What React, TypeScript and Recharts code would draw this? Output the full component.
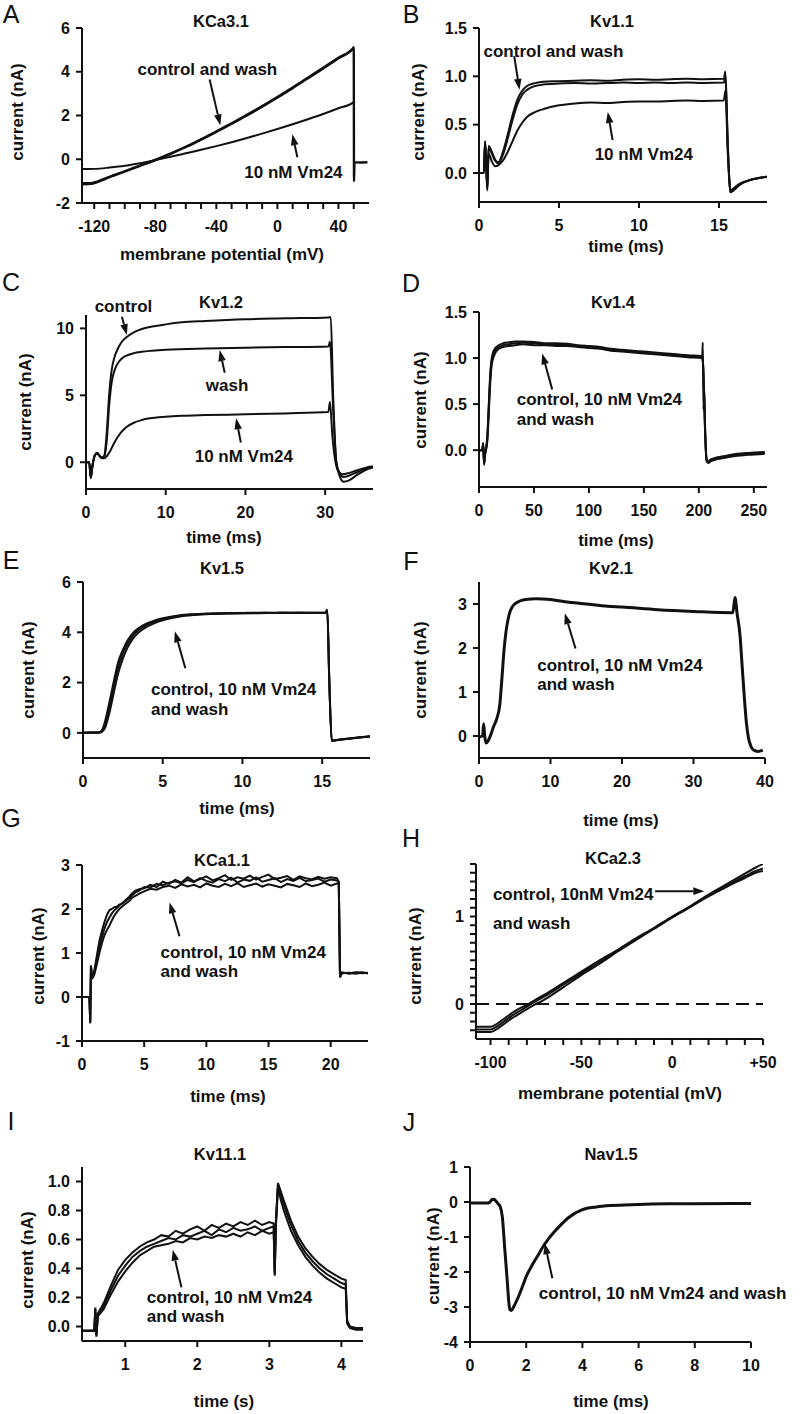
import React from "react";
import { LineChart, Line, XAxis, YAxis, ReferenceLine, ReferenceDot } from "recharts";

type Pt = [number, number];

// ---------- traces: [x, y] ----------
// A  KCa3.1  (mV, nA)
const KCA31_CONTROL: Pt[] = [[-128,-1.14],[-122,-1.12],[-118,-1.04],[-110,-0.82],[-100,-0.56],[-90,-0.3],[-80,-0.04],[-70,0.25],[-60,0.56],[-50,0.9],[-40,1.25],[-30,1.62],[-20,2.0],[-10,2.4],[0,2.82],[10,3.25],[20,3.7],[30,4.15],[40,4.62],[49.8,5.1],[50,5.12],[50.2,-1.0],[50.5,-0.14],[54,-0.15],[59,-0.14]];
const KCA31_WASH: Pt[] = [[-128,-1.1],[-122,-1.09],[-118,-1.02],[-110,-0.8],[-100,-0.55],[-90,-0.29],[-80,-0.03],[-70,0.26],[-60,0.57],[-50,0.91],[-40,1.27],[-30,1.64],[-20,2.03],[-10,2.43],[0,2.85],[10,3.28],[20,3.73],[30,4.18],[40,4.64],[49.8,5.08],[50,5.1]];
const KCA31_VM24: Pt[] = [[-128,-0.45],[-120,-0.44],[-110,-0.38],[-100,-0.3],[-90,-0.18],[-80,-0.04],[-70,0.11],[-60,0.27],[-50,0.43],[-40,0.6],[-30,0.78],[-20,0.97],[-10,1.17],[0,1.38],[10,1.6],[20,1.83],[30,2.07],[40,2.33],[49.8,2.6],[50,2.62]];

// B  Kv1.1  (ms, nA)
const KV11_CONTROL: Pt[] = [[0,0],[0.3,0],[0.38,0.33],[0.45,0.1],[0.52,-0.18],[0.6,0.28],[0.8,0.22],[1.0,0.14],[1.2,0.11],[1.5,0.22],[1.8,0.4],[2.1,0.6],[2.4,0.76],[2.7,0.85],[3.0,0.9],[3.5,0.93],[4,0.945],[5,0.95],[6,0.955],[7,0.96],[8,0.955],[9,0.965],[10,0.97],[11,0.965],[12,0.97],[13,0.975],[14,0.97],[15.3,0.975],[15.4,1.05],[15.55,0.3],[15.72,-0.2],[15.9,-0.18],[16.3,-0.12],[17,-0.07],[18,-0.04]];
const KV11_WASH: Pt[] = [[0,0],[0.3,0],[0.38,0.32],[0.45,0.1],[0.52,-0.17],[0.6,0.26],[0.8,0.2],[1.0,0.13],[1.2,0.1],[1.5,0.19],[1.8,0.36],[2.1,0.55],[2.4,0.71],[2.7,0.81],[3.0,0.86],[3.5,0.9],[4,0.915],[5,0.925],[6,0.93],[7,0.925],[8,0.93],[9,0.935],[10,0.93],[11,0.935],[12,0.93],[13,0.935],[14,0.93],[15.3,0.935],[15.4,1.0],[15.55,0.28],[15.72,-0.2],[15.9,-0.18],[16.3,-0.12],[17,-0.07],[18,-0.04]];
const KV11_VM24: Pt[] = [[0,0],[0.3,0],[0.38,0.3],[0.45,0.08],[0.52,-0.15],[0.6,0.2],[0.8,0.12],[1.0,0.07],[1.2,0.08],[1.5,0.13],[1.8,0.22],[2.1,0.33],[2.4,0.44],[2.7,0.52],[3.0,0.58],[3.5,0.63],[4,0.66],[5,0.7],[6,0.72],[7,0.73],[8,0.725],[9,0.735],[10,0.74],[11,0.74],[12,0.745],[13,0.75],[14,0.745],[15.3,0.75],[15.4,0.85],[15.55,0.2],[15.72,-0.18],[15.9,-0.16],[16.3,-0.11],[17,-0.07],[18,-0.04]];

// C  Kv1.2
const KV12_CONTROL: Pt[] = [[0,0],[0.4,0],[0.6,-1.2],[0.8,-0.3],[1.1,0.5],[1.4,0.7],[1.7,0.5],[2.0,0.35],[2.3,0.5],[2.6,2.2],[2.9,5.0],[3.2,6.8],[3.6,7.9],[4.0,8.5],[4.5,9.0],[5,9.3],[6,9.7],[7,9.95],[8,10.1],[10,10.3],[12,10.45],[15,10.55],[20,10.68],[25,10.75],[30.4,10.82],[30.7,10.85],[31.0,5],[31.4,0],[31.8,-1.0],[32.3,-1.45],[33,-1.35],[34,-0.95],[35,-0.6],[36,-0.4]];
const KV12_WASH: Pt[] = [[0,0],[0.4,0],[0.6,-1.15],[0.8,-0.3],[1.1,0.5],[1.4,0.68],[1.7,0.48],[2.0,0.33],[2.3,0.45],[2.6,1.6],[2.9,4.2],[3.2,5.9],[3.6,6.9],[4.0,7.4],[4.5,7.75],[5,7.95],[6,8.15],[7,8.25],[8,8.32],[10,8.4],[15,8.5],[20,8.56],[25,8.6],[30.4,8.65],[30.6,9.0],[31.0,4],[31.4,0],[31.8,-0.8],[32.3,-1.1],[33,-1.0],[34,-0.75],[35,-0.5],[36,-0.35]];
const KV12_VM24: Pt[] = [[0,0],[0.4,0],[0.6,-1.1],[0.8,-0.3],[1.1,0.5],[1.4,0.65],[1.7,0.45],[2.0,0.3],[2.3,0.3],[2.6,0.45],[3.0,0.8],[3.5,1.4],[4,1.9],[4.5,2.3],[5,2.6],[6,2.95],[7,3.15],[8,3.28],[10,3.4],[12,3.47],[15,3.52],[20,3.58],[25,3.65],[30.4,3.75],[30.6,4.5],[30.9,2],[31.3,0],[31.7,-0.7],[32.2,-0.9],[33,-0.8],[34,-0.6],[35,-0.42],[36,-0.3]];

// D  Kv1.4
const KV14_A: Pt[] = [[0,0],[3,0],[3.8,0.08],[4.6,-0.16],[5.5,-0.05],[6.5,0.02],[7.5,0.12],[8.5,0.35],[9.5,0.62],[10.5,0.84],[11.5,0.96],[13,1.04],[15,1.09],[18,1.12],[22,1.14],[27,1.15],[33,1.16],[40,1.165],[50,1.16],[60,1.15],[70,1.15],[80,1.14],[90,1.13],[100,1.12],[110,1.11],[120,1.09],[130,1.08],[140,1.07],[150,1.06],[160,1.05],[170,1.04],[180,1.03],[190,1.02],[203,1.01],[203.6,1.17],[204.2,0.44],[204.8,0.7],[205.8,0.2],[207,-0.1],[208.5,-0.13],[211,-0.11],[216,-0.09],[225,-0.07],[235,-0.05],[245,-0.04],[260,-0.03]];
const KV14_B: Pt[] = [[0,0],[3,0],[3.8,0.06],[4.6,-0.14],[5.5,-0.05],[6.5,0.01],[7.5,0.09],[8.5,0.3],[9.5,0.56],[10.5,0.78],[11.5,0.92],[13,1.0],[15,1.06],[18,1.1],[22,1.12],[27,1.13],[33,1.14],[40,1.15],[50,1.14],[60,1.14],[70,1.13],[80,1.13],[90,1.12],[100,1.11],[110,1.1],[120,1.08],[130,1.07],[140,1.06],[150,1.05],[160,1.04],[170,1.03],[180,1.02],[190,1.01],[203,1.0],[204,0.9],[205.8,0.15],[207,-0.12],[208.5,-0.14],[211,-0.12],[216,-0.1],[225,-0.08],[235,-0.06],[245,-0.05],[260,-0.04]];
const KV14_C: Pt[] = [[0,0],[3,0],[3.8,0.07],[4.6,-0.15],[5.5,-0.04],[6.5,0.03],[7.5,0.14],[8.5,0.38],[9.5,0.66],[10.5,0.88],[11.5,0.99],[13,1.07],[15,1.11],[18,1.14],[22,1.16],[27,1.17],[33,1.18],[40,1.18],[50,1.175],[60,1.16],[70,1.16],[80,1.155],[90,1.14],[100,1.13],[110,1.12],[120,1.1],[130,1.09],[140,1.08],[150,1.07],[160,1.06],[170,1.05],[180,1.04],[190,1.03],[203,1.02],[204,0.9],[205.8,0.18],[207,-0.09],[208.5,-0.12],[211,-0.1],[216,-0.08],[225,-0.06],[235,-0.04],[245,-0.03],[260,-0.02]];

// E  Kv1.5
const KV15_A: Pt[] = [[0,0],[0.5,0.01],[1.0,0.02],[1.2,0.12],[1.4,0.5],[1.6,1.05],[1.8,1.65],[2.0,2.25],[2.2,2.8],[2.5,3.3],[2.8,3.68],[3.1,3.95],[3.5,4.17],[4,4.35],[4.5,4.47],[5,4.56],[5.5,4.62],[6,4.67],[7,4.72],[8,4.75],[9,4.76],[10,4.77],[11,4.78],[12,4.77],[13,4.78],[14,4.78],[15.2,4.78],[15.32,4.9],[15.45,2.0],[15.6,-0.32],[15.8,-0.3],[16.5,-0.24],[17.2,-0.19],[18,-0.14]];
const KV15_B: Pt[] = [[0,0],[0.5,0.01],[1.0,0.01],[1.2,0.08],[1.4,0.35],[1.6,0.85],[1.8,1.45],[2.0,2.05],[2.2,2.6],[2.5,3.15],[2.8,3.55],[3.1,3.85],[3.5,4.1],[4,4.3],[4.5,4.43],[5,4.53],[5.5,4.6],[6,4.65],[7,4.71],[8,4.74],[9,4.76],[10,4.76],[11,4.77],[12,4.78],[13,4.77],[14,4.78],[15.2,4.77],[15.32,4.88],[15.45,2.0],[15.6,-0.3],[15.8,-0.29],[16.5,-0.23],[17.2,-0.18],[18,-0.13]];
const KV15_C: Pt[] = [[0,0],[0.5,0.0],[1.0,0.0],[1.2,0.05],[1.4,0.22],[1.6,0.65],[1.8,1.2],[2.0,1.8],[2.2,2.35],[2.5,2.95],[2.8,3.4],[3.1,3.72],[3.5,4.0],[4,4.22],[4.5,4.37],[5,4.48],[5.5,4.56],[6,4.62],[7,4.69],[8,4.73],[9,4.75],[10,4.76],[11,4.76],[12,4.77],[13,4.78],[14,4.77],[15.2,4.78],[15.32,4.86],[15.45,2.0],[15.6,-0.31],[15.8,-0.3],[16.5,-0.24],[17.2,-0.19],[18,-0.14]];

// F  Kv2.1
const KV21_ALL: Pt[] = [[0,-0.02],[0.5,0],[0.65,0.28],[0.8,0.0],[1.0,-0.16],[1.3,-0.1],[1.7,0.05],[2.0,0.2],[2.5,0.4],[2.9,0.7],[3.2,1.3],[3.5,1.95],[3.8,2.4],[4.2,2.75],[4.7,2.95],[5.5,3.05],[6.5,3.1],[8,3.12],[10,3.1],[12,3.05],[15,3.0],[18,2.95],[20,2.93],[25,2.87],[30,2.83],[35.5,2.8],[35.8,3.15],[36.1,2.78],[36.5,2.3],[36.8,1.6],[37.1,0.9],[37.4,0.3],[37.7,-0.05],[38.0,-0.22],[38.4,-0.32],[39,-0.35],[39.7,-0.32]];

// G  KCa1.1
const KCA11_A: Pt[] = [[0,0],[0.6,0],[0.66,-0.58],[0.72,0.72],[0.8,0.45],[0.9,0.5],[1.0,0.62],[1.2,0.95],[1.4,1.28],[1.6,1.5],[1.8,1.7],[2.0,1.86],[2.2,1.97],[2.4,2.0],[2.6,2.04],[2.8,2.05],[3.0,2.1],[3.2,2.12],[3.5,2.2],[3.8,2.28],[4.0,2.35],[4.3,2.42],[4.6,2.45],[5,2.47],[5.5,2.55],[6,2.5],[6.5,2.62],[7,2.57],[7.5,2.66],[8,2.6],[8.5,2.72],[9,2.63],[9.5,2.68],[10,2.74],[10.5,2.65],[11,2.7],[11.5,2.77],[12,2.66],[12.5,2.72],[13,2.69],[13.5,2.76],[14,2.67],[14.5,2.73],[15,2.78],[15.5,2.68],[16,2.71],[16.5,2.75],[17,2.66],[17.5,2.74],[18,2.7],[18.5,2.67],[19,2.73],[19.5,2.69],[20,2.72],[20.5,2.7],[20.65,2.62],[20.75,0.45],[20.9,0.55],[21.5,0.54],[22,0.56],[22.5,0.54],[23,0.55]];
const KCA11_B: Pt[] = [[0,0],[0.6,0],[0.66,-0.6],[0.72,0.7],[0.8,0.42],[0.9,0.45],[1.0,0.52],[1.2,0.75],[1.4,1.0],[1.6,1.22],[1.8,1.4],[2.0,1.52],[2.2,1.62],[2.4,1.74],[2.6,1.85],[2.8,1.93],[3.0,2.0],[3.2,2.05],[3.5,2.12],[3.8,2.18],[4.0,2.25],[4.3,2.3],[4.6,2.35],[5,2.4],[5.5,2.46],[6,2.44],[6.5,2.5],[7,2.53],[7.5,2.48],[8,2.56],[8.5,2.51],[9,2.55],[9.5,2.49],[10,2.58],[10.5,2.53],[11,2.5],[11.5,2.57],[12,2.52],[12.5,2.59],[13,2.5],[13.5,2.54],[14,2.58],[14.5,2.51],[15,2.56],[15.5,2.53],[16,2.49],[16.5,2.57],[17,2.54],[17.5,2.5],[18,2.58],[18.5,2.52],[19,2.55],[19.5,2.6],[20,2.53],[20.5,2.58],[20.65,2.58],[20.75,0.45],[20.9,0.54],[21.5,0.55],[22,0.53],[22.5,0.55],[23,0.54]];
const KCA11_C: Pt[] = [[0,0],[0.6,0],[0.66,-0.55],[0.72,0.68],[0.8,0.44],[0.9,0.48],[1.0,0.57],[1.2,0.85],[1.4,1.12],[1.6,1.35],[1.8,1.55],[2.0,1.7],[2.2,1.8],[2.4,1.9],[2.6,1.97],[2.8,2.02],[3.0,2.08],[3.2,2.12],[3.5,2.18],[3.8,2.25],[4.0,2.3],[4.3,2.38],[4.6,2.42],[5,2.5],[5.5,2.49],[6,2.57],[6.5,2.54],[7,2.6],[7.5,2.63],[8,2.58],[8.5,2.66],[9,2.61],[9.5,2.7],[10,2.64],[10.5,2.6],[11,2.68],[11.5,2.63],[12,2.71],[12.5,2.6],[13,2.67],[13.5,2.64],[14,2.72],[14.5,2.62],[15,2.66],[15.5,2.7],[16,2.61],[16.5,2.68],[17,2.64],[17.5,2.71],[18,2.63],[18.5,2.66],[19,2.69],[19.5,2.62],[20,2.67],[20.5,2.65],[20.65,2.6],[20.75,0.47],[20.9,0.56],[21.5,0.53],[22,0.55],[22.5,0.56],[23,0.54]];

// H  KCa2.3  (mV, nA)
const KCA23_A: Pt[] = [[-108,-0.26],[-100,-0.26],[-96,-0.22],[-92,-0.16],[-88,-0.1],[-84,-0.05],[-80,-0.01],[-76,0.04],[-70,0.11],[-60,0.24],[-50,0.37],[-40,0.5],[-30,0.62],[-20,0.75],[-10,0.87],[0,1.0],[10,1.12],[20,1.25],[30,1.37],[40,1.49],[46,1.56],[50,1.6]];
const KCA23_B: Pt[] = [[-108,-0.32],[-100,-0.32],[-96,-0.28],[-92,-0.22],[-88,-0.16],[-84,-0.11],[-80,-0.06],[-76,-0.01],[-72,0.03],[-60,0.19],[-50,0.33],[-40,0.46],[-30,0.6],[-20,0.73],[-10,0.86],[0,0.99],[10,1.11],[20,1.23],[30,1.34],[40,1.44],[46,1.5],[50,1.52]];
const KCA23_C: Pt[] = [[-108,-0.29],[-100,-0.29],[-96,-0.25],[-92,-0.19],[-88,-0.13],[-84,-0.08],[-80,-0.03],[-76,0.02],[-70,0.09],[-60,0.22],[-50,0.35],[-40,0.48],[-30,0.61],[-20,0.74],[-10,0.86],[0,0.99],[10,1.11],[20,1.24],[30,1.35],[40,1.46],[46,1.52],[50,1.55]];

// I  Kv11.1  (s, nA)
const KV111_A: Pt[] = [[0.4,-0.03],[0.57,-0.03],[0.585,0.13],[0.6,-0.07],[0.62,0.09],[0.7,0.16],[0.8,0.28],[0.9,0.39],[1.0,0.46],[1.1,0.51],[1.2,0.55],[1.3,0.58],[1.4,0.6],[1.5,0.63],[1.6,0.62],[1.7,0.66],[1.8,0.64],[1.9,0.67],[2.0,0.69],[2.1,0.66],[2.2,0.7],[2.3,0.68],[2.4,0.71],[2.5,0.69],[2.6,0.72],[2.7,0.7],[2.8,0.73],[2.9,0.7],[3.0,0.72],[3.06,0.71],[3.075,0.35],[3.09,0.72],[3.12,0.99],[3.16,0.93],[3.2,0.87],[3.3,0.73],[3.4,0.62],[3.5,0.54],[3.6,0.48],[3.7,0.43],[3.8,0.39],[3.9,0.36],[4.0,0.33],[4.06,0.32],[4.08,0.04],[4.12,0.0],[4.2,-0.01],[4.3,-0.01]];
const KV111_B: Pt[] = [[0.4,-0.03],[0.57,-0.03],[0.585,0.12],[0.6,-0.06],[0.62,0.08],[0.7,0.14],[0.8,0.25],[0.9,0.35],[1.0,0.42],[1.1,0.48],[1.2,0.52],[1.3,0.55],[1.4,0.57],[1.5,0.59],[1.6,0.61],[1.7,0.6],[1.8,0.63],[1.9,0.62],[2.0,0.64],[2.1,0.66],[2.2,0.63],[2.3,0.67],[2.4,0.65],[2.5,0.68],[2.6,0.66],[2.7,0.67],[2.8,0.69],[2.9,0.66],[3.0,0.68],[3.06,0.69],[3.075,0.36],[3.09,0.7],[3.12,0.98],[3.16,0.9],[3.2,0.84],[3.3,0.7],[3.4,0.59],[3.5,0.51],[3.6,0.45],[3.7,0.4],[3.8,0.36],[3.9,0.33],[4.0,0.3],[4.06,0.29],[4.08,0.03],[4.12,-0.01],[4.2,-0.02],[4.3,-0.02]];
const KV111_C: Pt[] = [[0.4,-0.03],[0.57,-0.03],[0.585,0.1],[0.6,-0.06],[0.62,0.07],[0.7,0.12],[0.8,0.22],[0.9,0.31],[1.0,0.38],[1.1,0.44],[1.2,0.49],[1.3,0.52],[1.4,0.55],[1.5,0.56],[1.6,0.57],[1.7,0.59],[1.8,0.58],[1.9,0.61],[2.0,0.6],[2.1,0.62],[2.2,0.61],[2.3,0.63],[2.4,0.62],[2.5,0.64],[2.6,0.62],[2.7,0.65],[2.8,0.63],[2.9,0.66],[3.0,0.64],[3.06,0.65],[3.075,0.38],[3.09,0.68],[3.12,0.96],[3.16,0.87],[3.2,0.8],[3.3,0.66],[3.4,0.56],[3.5,0.48],[3.6,0.42],[3.7,0.37],[3.8,0.33],[3.9,0.3],[4.0,0.27],[4.06,0.26],[4.08,0.02],[4.12,-0.01],[4.2,-0.02],[4.3,-0.02]];

// J  Nav1.5
const NAV15_ALL: Pt[] = [[0,-0.03],[0.6,-0.03],[0.7,-0.01],[0.78,0.07],[0.86,0.08],[0.93,0.02],[1.0,-0.05],[1.07,-0.12],[1.15,-0.42],[1.24,-1.37],[1.33,-2.3],[1.38,-2.85],[1.42,-3.08],[1.47,-3.1],[1.55,-3.0],[1.7,-2.75],[1.85,-2.45],[2.0,-2.13],[2.2,-1.82],[2.4,-1.55],[2.66,-1.2],[3.0,-0.85],[3.2,-0.68],[3.5,-0.45],[4.0,-0.22],[4.5,-0.14],[5,-0.1],[6,-0.07],[7,-0.05],[8,-0.05],[10,-0.04]];

// ---------- ticks ----------
const A_XTICKS = [-120,-110,-100,-90,-80,-70,-60,-50,-40,-30,-20,-10,0,10,20,30,40,50];
const A_YTICKS = [-2,0,2,4,6];
const B_XTICKS = [0,5,10,15];
const B_YTICKS = [0,0.5,1,1.5];
const C_XTICKS = [0,10,20,30];
const C_YTICKS = [0,5,10];
const D_XTICKS = [0,50,100,150,200,250];
const D_YTICKS = [0,0.5,1,1.5];
const E_XTICKS = [0,5,10,15];
const E_YTICKS = [0,2,4,6];
const F_XTICKS = [0,10,20,30,40];
const F_YTICKS = [0,1,2,3];
const G_XTICKS = [0,5,10,15,20];
const G_YTICKS = [-1,0,1,2,3];
const H_XTICKS = [-100,-90,-80,-70,-60,-50,-40,-30,-20,-10,0,10,20,30,40,50];
const H_YTICKS = [-0.3,-0.2,-0.1,0,0.1,0.2,0.3,0.4,0.5,0.6,0.7,0.8,0.9,1,1.1,1.2,1.3,1.4,1.5,1.6];
const I_XTICKS = [1,2,3,4];
const I_YTICKS = [0,0.2,0.4,0.6,0.8,1];
const J_XTICKS = [0,2,4,6,8,10];
const J_YTICKS = [-4,-3,-2,-1,0,1];

const FONT = '"Liberation Sans", Arial, Helvetica, sans-serif';
const INK = "#111";

const fixed1 = (v: number) => v.toFixed(1);
const plain = (v: number) => String(v);
const every40 = (v: number) => (v % 40 === 0 ? String(v) : "");
const hx = (v: number) => (v === 50 ? "+50" : v % 50 === 0 ? String(v) : "");
const hy = (v: number) => (Math.abs(v - Math.round(v)) < 1e-6 ? String(Math.round(v)) : "");

type Note = { x: number; y: number; text: string; anchor: "start" | "middle" };
type Arrow = [number, number, number, number];
type Series = { pts: Pt[]; w: number; curve?: "monotone" | "linear" };

type PanelSpec = {
  col: number;
  plot: { l: number; t: number; r: number; b: number };
  xDomain: [number, number];
  yDomain: [number, number];
  xTicks: number[];
  yTicks: number[];
  xFmt: (v: number) => string;
  yFmt: (v: number) => string;
  series: Series[];
  notes: Note[];
  arrows: Arrow[];
  zeroDash?: boolean;
};

const PANELS: PanelSpec[] = [
  {
    col: 0, plot: { l: 82, t: 28, r: 369, b: 203 },
    xDomain: [-128, 60], yDomain: [-2, 6], xTicks: A_XTICKS, yTicks: A_YTICKS, xFmt: every40, yFmt: plain,
    series: [{ pts: KCA31_CONTROL, w: 2.4 }, { pts: KCA31_WASH, w: 2.4 }, { pts: KCA31_VM24, w: 2 }],
    notes: [
      { x: -45.9, y: 4.1, text: "control and wash", anchor: "middle" },
      { x: 10.5, y: -0.6, text: "10 nM Vm24", anchor: "middle" },
    ],
    arrows: [[-44.4, 3.65, -37.4, 1.55], [13.1, 0.09, 9.8, 1.14]],
  },
  {
    col: 400, plot: { l: 479, t: 28, r: 767, b: 202 },
    xDomain: [0, 18], yDomain: [-0.3, 1.5], xTicks: B_XTICKS, yTicks: B_YTICKS, xFmt: plain, yFmt: fixed1,
    series: [{ pts: KV11_CONTROL, w: 2 }, { pts: KV11_WASH, w: 2 }, { pts: KV11_VM24, w: 2 }],
    notes: [
      { x: 4.65, y: 1.26, text: "control and wash", anchor: "middle" },
      { x: 10.3, y: 0.19, text: "10 nM Vm24", anchor: "middle" },
    ],
    arrows: [[2.2, 1.21, 2.53, 0.86], [8.35, 0.34, 8.05, 0.63]],
  },
  {
    col: 0, plot: { l: 86, t: 315, r: 373, b: 489 },
    xDomain: [0, 36], yDomain: [-2, 11], xTicks: C_XTICKS, yTicks: C_YTICKS, xFmt: plain, yFmt: plain,
    series: [{ pts: KV12_CONTROL, w: 2 }, { pts: KV12_WASH, w: 2 }, { pts: KV12_VM24, w: 2 }],
    notes: [
      { x: 4.7, y: 11.6, text: "control", anchor: "middle" },
      { x: 17.7, y: 5.77, text: "wash", anchor: "middle" },
      { x: 19.8, y: 0.42, text: "10 nM Vm24", anchor: "middle" },
    ],
    arrows: [[4.5, 10.87, 5.13, 9.5], [17.4, 6.69, 16.77, 8.38], [19.42, 1.47, 18.83, 3.28]],
  },
  {
    col: 400, plot: { l: 479, t: 312, r: 767, b: 487 },
    xDomain: [0, 262], yDomain: [-0.4, 1.5], xTicks: D_XTICKS, yTicks: D_YTICKS, xFmt: plain, yFmt: fixed1,
    series: [{ pts: KV14_A, w: 2 }, { pts: KV14_B, w: 2 }, { pts: KV14_C, w: 2 }],
    notes: [
      { x: 34.3, y: 0.55, text: "control, 10 nM Vm24", anchor: "start" },
      { x: 34.3, y: 0.33, text: "and wash", anchor: "start" },
    ],
    arrows: [[66.6, 0.66, 57.5, 1.05]],
  },
  {
    col: 0, plot: { l: 83, t: 582, r: 370, b: 758 },
    xDomain: [0, 18], yDomain: [-1, 6], xTicks: E_XTICKS, yTicks: E_YTICKS, xFmt: plain, yFmt: plain,
    series: [{ pts: KV15_A, w: 2 }, { pts: KV15_B, w: 2 }, { pts: KV15_C, w: 2 }],
    notes: [
      { x: 4.26, y: 1.71, text: "control, 10 nM Vm24", anchor: "start" },
      { x: 4.26, y: 0.93, text: "and wash", anchor: "start" },
    ],
    arrows: [[6.42, 2.57, 5.76, 4.04]],
  },
  {
    col: 400, plot: { l: 479, t: 582, r: 765, b: 758 },
    xDomain: [0, 40], yDomain: [-0.5, 3.5], xTicks: F_XTICKS, yTicks: F_YTICKS, xFmt: plain, yFmt: plain,
    series: [{ pts: KV21_ALL, w: 3 }],
    notes: [
      { x: 8.15, y: 1.61, text: "control, 10 nM Vm24", anchor: "start" },
      { x: 8.15, y: 1.18, text: "and wash", anchor: "start" },
    ],
    arrows: [[13.5, 1.99, 12.0, 2.79]],
  },
  {
    col: 0, plot: { l: 82, t: 865, r: 368, b: 1041 },
    xDomain: [0, 23], yDomain: [-1, 3], xTicks: G_XTICKS, yTicks: G_YTICKS, xFmt: plain, yFmt: plain,
    series: [
      { pts: KCA11_A, w: 2, curve: "linear" },
      { pts: KCA11_B, w: 2, curve: "linear" },
      { pts: KCA11_C, w: 2, curve: "linear" },
    ],
    notes: [
      { x: 6.32, y: 1.02, text: "control, 10 nM Vm24", anchor: "start" },
      { x: 6.32, y: 0.58, text: "and wash", anchor: "start" },
    ],
    arrows: [[7.84, 1.38, 7.04, 2.15]],
  },
  {
    col: 400, plot: { l: 476, t: 864, r: 763, b: 1039 },
    xDomain: [-108, 50], yDomain: [-0.4, 1.6], xTicks: H_XTICKS, yTicks: H_YTICKS, xFmt: hx, yFmt: hy,
    series: [{ pts: KCA23_A, w: 2 }, { pts: KCA23_B, w: 2 }, { pts: KCA23_C, w: 2 }],
    notes: [
      { x: -98.7, y: 1.25, text: "control, 10nM Vm24", anchor: "start" },
      { x: -98.7, y: 0.92, text: "and wash", anchor: "start" },
    ],
    arrows: [[-9.4, 1.29, 17.7, 1.29]],
    zeroDash: true,
  },
  {
    col: 0, plot: { l: 82, t: 1167, r: 363, b: 1341 },
    xDomain: [0.4, 4.3], yDomain: [-0.1, 1.1], xTicks: I_XTICKS, yTicks: I_YTICKS, xFmt: plain, yFmt: fixed1,
    series: [
      { pts: KV111_A, w: 2, curve: "linear" },
      { pts: KV111_B, w: 2, curve: "linear" },
      { pts: KV111_C, w: 2, curve: "linear" },
    ],
    notes: [
      { x: 1.3, y: 0.2, text: "control, 10 nM Vm24", anchor: "start" },
      { x: 1.3, y: 0.066, text: "and wash", anchor: "start" },
    ],
    arrows: [[1.78, 0.27, 1.66, 0.53]],
  },
  {
    col: 400, plot: { l: 470, t: 1167, r: 751, b: 1342 },
    xDomain: [0, 10], yDomain: [-4, 1], xTicks: J_XTICKS, yTicks: J_YTICKS, xFmt: plain, yFmt: plain,
    series: [{ pts: NAV15_ALL, w: 3 }],
    notes: [{ x: 2.45, y: -2.6, text: "control, 10 nM Vm24 and wash", anchor: "start" }],
    arrows: [[2.93, -2.18, 2.66, -1.18]],
  },
];

// static text: panel letters, titles and axis titles (page pixels)
const LETTERS: [string, number, number][] = [
  ["A", 11, 14], ["B", 411, 14], ["C", 11, 282], ["D", 411, 283], ["E", 11, 560],
  ["F", 411, 561], ["G", 11, 818], ["H", 411, 838], ["I", 11, 1121], ["J", 409, 1122],
];
const TITLES: [string, number, number][] = [
  ["KCa3.1", 221, 21], ["Kv1.1", 612, 21], ["Kv1.2", 221, 302], ["Kv1.4", 613, 302],
  ["Kv1.5", 222, 568], ["Kv2.1", 611, 568], ["KCa1.1", 222, 860], ["KCa2.3", 613, 858],
  ["Kv11.1", 220, 1154], ["Nav1.5", 611, 1154],
];
const XLABELS: [string, number, number][] = [
  ["membrane potential (mV)", 222, 254], ["time (ms)", 626, 246], ["time (ms)", 224, 537],
  ["time (ms)", 616, 540], ["time (ms)", 237, 808], ["time (ms)", 621, 820],
  ["time (ms)", 228, 1096], ["membrane potential (mV)", 620, 1093], ["time (s)", 224, 1401],
  ["time (ms)", 611, 1401],
];
const YLABELS: [number, number][] = [
  [17, 112], [418, 112], [25, 402], [420, 400], [28, 670], [420, 670], [38, 956], [415, 956], [27, 1260], [433, 1256],
];

const AXIS = { stroke: INK, strokeWidth: 2 };
const TICK = { fill: INK, fontSize: 16, fontWeight: 700, fontFamily: FONT };
const NOTE_STYLE: React.CSSProperties = { fontSize: 17, fontWeight: 700, fontFamily: FONT, fill: INK };

function ArrowShape(props: any) {
  const { x1, y1, x2, y2 } = props;
  if ([x1, y1, x2, y2].some((v) => typeof v !== "number" || isNaN(v))) return <g />;
  const ang = Math.atan2(y2 - y1, x2 - x1);
  const len = 11;
  const half = 3.8;
  const bx = x2 - len * Math.cos(ang);
  const by = y2 - len * Math.sin(ang);
  const nx = -Math.sin(ang) * half;
  const ny = Math.cos(ang) * half;
  return (
    <g>
      <line x1={x1} y1={y1} x2={bx} y2={by} stroke={INK} strokeWidth={2} />
      <polygon points={`${x2},${y2} ${bx + nx},${by + ny} ${bx - nx},${by - ny}`} fill={INK} />
    </g>
  );
}

const toRows = (pts: Pt[]) => pts.map(([x, y]) => ({ x, y }));

function Panel({ p }: { p: PanelSpec }) {
  const top = p.plot.t - 20;
  const height = p.plot.b - p.plot.t + 64;
  return (
    <div style={{ position: "absolute", left: p.col, top }}>
      <LineChart
        width={400}
        height={height}
        margin={{ top: 20, right: p.col + 400 - p.plot.r, bottom: 0, left: 0 }}
      >
        <XAxis
          type="number"
          dataKey="x"
          domain={p.xDomain}
          ticks={p.xTicks}
          tickFormatter={p.xFmt}
          interval={0}
          allowDataOverflow
          height={44}
          tickSize={6}
          tickMargin={12}
          axisLine={AXIS}
          tickLine={AXIS}
          tick={TICK}
        />
        <YAxis
          type="number"
          domain={p.yDomain}
          ticks={p.yTicks}
          tickFormatter={p.yFmt}
          interval={0}
          allowDataOverflow
          width={p.plot.l - p.col}
          tickSize={6}
          tickMargin={6}
          axisLine={AXIS}
          tickLine={AXIS}
          tick={TICK}
        />
        {p.zeroDash && (
          <ReferenceLine y={0} stroke={INK} strokeWidth={2} strokeDasharray="13 7" />
        )}
        {p.series.map((s, i) => (
          <Line
            key={i}
            data={toRows(s.pts)}
            dataKey="y"
            type={s.curve ?? "monotone"}
            stroke={INK}
            strokeWidth={s.w}
            dot={false}
            activeDot={false}
            isAnimationActive={false}
          />
        ))}
        {p.arrows.map((a, i) => (
          <ReferenceLine
            key={`a${i}`}
            ifOverflow="visible"
            segment={[{ x: a[0], y: a[1] }, { x: a[2], y: a[3] }]}
            shape={(sp: any) => <ArrowShape {...sp} />}
          />
        ))}
        {p.notes.map((n, i) => (
          <ReferenceDot
            key={`n${i}`}
            x={n.x}
            y={n.y}
            r={0}
            ifOverflow="visible"
            shape={(sp: any) => (
              <text x={sp.cx} y={sp.cy} textAnchor={n.anchor} dominantBaseline="central" style={NOTE_STYLE}>
                {n.text}
              </text>
            )}
          />
        ))}
      </LineChart>
    </div>
  );
}

export default function App() {
  const bold = { fontFamily: FONT, fontWeight: 700, fill: INK } as const;
  return (
    <div style={{ position: "absolute", left: 0, top: 0, width: 800, height: 1414, background: "#fff" }}>
      {PANELS.map((p, i) => (
        <Panel key={i} p={p} />
      ))}
      <svg width={800} height={1414} style={{ position: "absolute", left: 0, top: 0, pointerEvents: "none" }}>
        {LETTERS.map(([t, x, y]) => (
          <text key={t} x={x} y={y} textAnchor="middle" dominantBaseline="central" style={{ fontFamily: FONT, fontSize: 25, fill: INK }}>
            {t}
          </text>
        ))}
        {TITLES.map(([t, x, y]) => (
          <text key={t} x={x} y={y} textAnchor="middle" dominantBaseline="central" style={{ ...bold, fontSize: 16.5 }}>
            {t}
          </text>
        ))}
        {XLABELS.map(([t, x, y], i) => (
          <text key={`x${i}`} x={x} y={y} textAnchor="middle" dominantBaseline="central" style={{ ...bold, fontSize: 17 }}>
            {t}
          </text>
        ))}
        {YLABELS.map(([x, y], i) => (
          <text
            key={`y${i}`}
            x={x}
            y={y}
            textAnchor="middle"
            dominantBaseline="central"
            transform={`rotate(-90 ${x} ${y})`}
            style={{ ...bold, fontSize: 17 }}
          >
            current (nA)
          </text>
        ))}
      </svg>
    </div>
  );
}
